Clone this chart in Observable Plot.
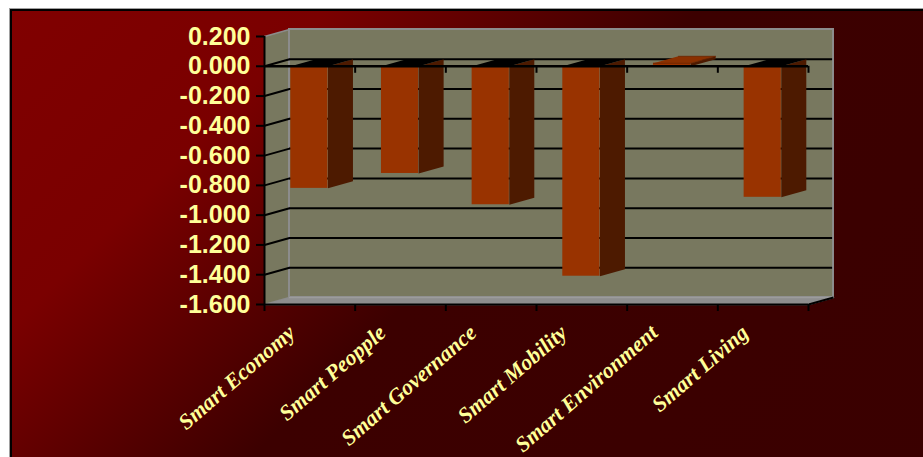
<!DOCTYPE html>
<html>
<head>
<meta charset="utf-8">
<script src="https://cdn.jsdelivr.net/npm/d3@7"></script>
<script src="https://cdn.jsdelivr.net/npm/@observablehq/plot@0.6"></script>
<style>
  html, body { margin: 0; padding: 0; background: #ffffff; width: 923px; height: 457px; overflow: hidden; }
  #frame { position: absolute; left: 10px; top: 9px; width: 960px; height: 470px;
    border-top: 2px solid #000; border-left: 2px solid #000;
    box-shadow: -1px -1px 0 #a0a0a0;
    background: linear-gradient(135deg, #800000 0%, #7a0000 22%, #3c0000 48%, #3a0000 100%); }
  #chart { position: absolute; left: 0; top: 0; }
</style>
</head>
<body>
<div id="frame"></div>
<div id="chart"></div>
<script>
// ---- data ----
const categories = ["Smart Economy", "Smart Peopple", "Smart Governance", "Smart Mobility", "Smart Environment", "Smart Living"];
const values = [-0.82, -0.72, -0.93, -1.41, 0.02, -0.88];
const yTicks = [0.2, 0, -0.2, -0.4, -0.6, -0.8, -1.0, -1.2, -1.4, -1.6];

// ---- layout / 3D style constants ----
const W = 923, H = 457;
const plotLeft = 264, frontRight = 808, plotTop = 29, frontBottom = 304;
const DEPTH_PX = 25, RISE_PX = 7, TICK_PX = 7;
const N = categories.length;
const yMax = d3.max(yTicks), yMin = d3.min(yTicks);
const kx = (frontRight - plotLeft) / N;
const ky = (frontBottom - (plotTop + RISE_PX)) / (yMax - yMin);
const DX = DEPTH_PX / kx, DY = RISE_PX / ky, TK = TICK_PX / ky;
const BAR_A = 0.29, BAR_B = 0.70;

const wallFill = "#78785f", wallEdge = "#8c8c8c", floorFill = "#8e8e8e";
const frontFill = "#993300", sideFill = "#4d1a00", textFill = "#ffff99";

const bars = categories.map((c, i) => ({c, i, v: values[i], x1: i + BAR_A, x2: i + BAR_B}));
const sidePts = bars.flatMap(b => [
  {k: b.c, x: b.x2, y: 0}, {k: b.c, x: b.x2 + DX, y: DY},
  {k: b.c, x: b.x2 + DX, y: b.v + DY}, {k: b.c, x: b.x2, y: b.v}
]);
const topPts = (pos) => bars.filter(b => (b.v > 0) === pos).flatMap(b => {
  const t = Math.max(b.v, 0);
  return [
    {k: b.c, x: b.x1, y: t}, {k: b.c, x: b.x2, y: t},
    {k: b.c, x: b.x2 + DX, y: t + DY}, {k: b.c, x: b.x1 + DX, y: t + DY}
  ];
});
const sideWall = [{x: 0, y: yMin}, {x: DX, y: yMin + DY}, {x: DX, y: yMax + DY}, {x: 0, y: yMax}];
const floor = [{x: 0, y: yMin}, {x: N, y: yMin}, {x: N + DX, y: yMin + DY}, {x: DX, y: yMin + DY}];
const gridTicks = yTicks.filter(t => t < yMax && t > yMin);
const bandEdges = d3.range(N + 1);

const chart = Plot.plot({
  width: W, height: H,
  marginLeft: plotLeft, marginRight: W - (plotLeft + (N + DX) * kx),
  marginTop: plotTop, marginBottom: H - frontBottom,
  style: {background: "transparent", overflow: "visible", fontFamily: "'Liberation Sans', Arial, sans-serif"},
  x: {domain: [0, N + DX], axis: null},
  y: {domain: [yMin, yMax + DY], axis: null},
  marks: [
    // walls
    Plot.line(sideWall, {x: "x", y: "y", fill: wallFill, stroke: wallEdge, strokeWidth: 1.5}),
    Plot.rect([0], {x1: () => DX, x2: () => N + DX, y1: () => yMin + DY, y2: () => yMax + DY, fill: wallFill, stroke: wallEdge, strokeWidth: 2}),
    Plot.line(floor, {x: "x", y: "y", fill: floorFill, stroke: "#9c9c9c", strokeWidth: 1.5}),
    // gridlines
    Plot.ruleY(gridTicks, {x1: () => DX, x2: () => N + DX - 0.01, y: d => d + DY, stroke: "#000", strokeWidth: 2}),
    Plot.link(gridTicks, {x1: () => 0, y1: d => d, x2: () => DX, y2: d => d + DY, stroke: "#000", strokeWidth: 2}),
    // bars
    Plot.line(sidePts, {x: "x", y: "y", z: "k", fill: sideFill, stroke: "none"}),
    Plot.rect(bars, {x1: "x1", x2: "x2", y1: () => 0, y2: "v", fill: frontFill}),
    Plot.line(topPts(false), {x: "x", y: "y", z: "k", fill: "#000", stroke: "none"}),
    Plot.line(topPts(true), {x: "x", y: "y", z: "k", fill: "#8a3000", stroke: "#6a2400", strokeWidth: 0.8}),
    // zero line and its ticks
    Plot.ruleY([0], {x1: () => 0, x2: () => N, stroke: "#000", strokeWidth: 2.5}),
    Plot.ruleX(bandEdges.slice(1), {y1: () => 0, y2: () => -TK, stroke: "#000", strokeWidth: 2}),
    // axes lines
    Plot.ruleX([0], {y1: () => yMin, y2: () => yMax, stroke: "#000", strokeWidth: 2}),
    Plot.ruleY([yMin], {x1: () => 0, x2: () => N, stroke: "#000", strokeWidth: 2}),
    Plot.ruleX(bandEdges, {y1: () => yMin, y2: () => yMin - TK, stroke: "#000", strokeWidth: 2}),
    Plot.link([0], {x1: () => N, y1: () => yMin, x2: () => N + DX, y2: () => yMin + DY, stroke: "#000", strokeWidth: 2}),
    // value axis
    Plot.axisY({ticks: yTicks, anchor: "left", tickFormat: d => d.toFixed(3), tickSize: 8, tickPadding: 6,
      stroke: "#000", strokeWidth: 2, fill: textFill, fontSize: 25, fontWeight: "bold"}),
    // category labels
    Plot.text(categories, {x: (d, i) => i + 0.5, y: () => yMin, text: d => d, rotate: -41, textAnchor: "end",
      dx: -18, dy: 25, fill: textFill, fontSize: 22, fontWeight: "bold", fontStyle: "italic",
      fontFamily: "'Liberation Serif', serif"})
  ]
});
document.getElementById("chart").appendChild(chart);
</script>
</body>
</html>
